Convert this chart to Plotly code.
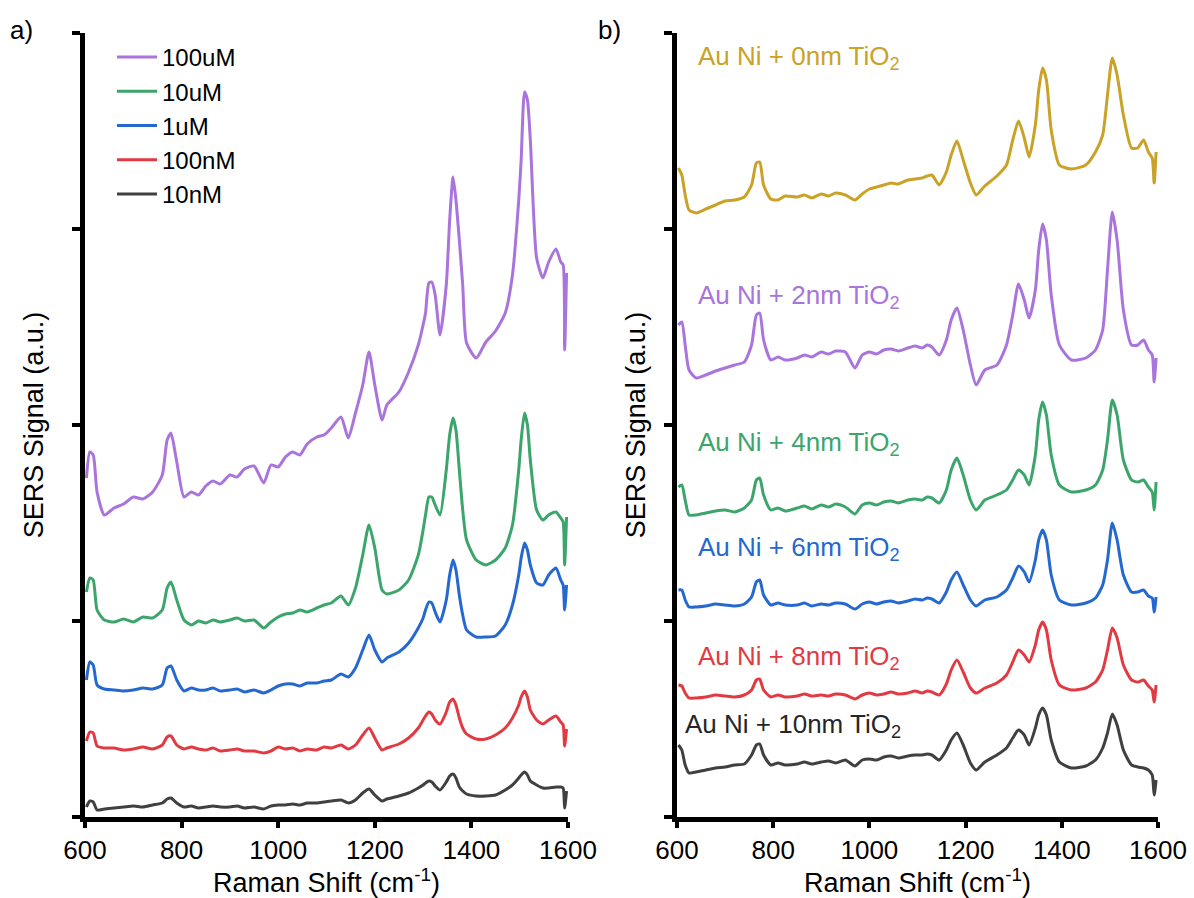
import plotly.graph_objects as go

# ---------------- data: panel a (concentration series) ----------------
shift_a = [603, 610, 617, 625, 640, 660, 680, 700, 720, 740,
           760, 770, 778, 790, 805, 820, 835, 850, 865, 880,
           900, 915, 930, 950, 970, 985, 1000, 1015, 1030, 1045,
           1060, 1080, 1095, 1110, 1130, 1145, 1160, 1175, 1188, 1200,
           1215, 1225, 1250, 1270, 1290, 1300, 1305, 1312, 1318, 1325,
           1335, 1348, 1355, 1362, 1368, 1375, 1382, 1390, 1410, 1430,
           1450, 1470, 1485, 1498, 1503, 1510, 1516, 1522, 1535, 1548,
           1560, 1575, 1585, 1590, 1593, 1597]

sig_100uM = [339, 365, 362, 325, 302, 309, 313, 320, 318, 325,
             342, 377, 384, 355, 320, 325, 322, 331, 336, 333,
             342, 340, 348, 351, 334, 352, 350, 360, 365, 362,
             373, 380, 382, 389, 400, 379, 404, 432, 465, 432,
             397, 412, 425, 445, 472, 492, 504, 534, 535, 522,
             482, 532, 597, 640, 617, 577, 532, 474, 459, 475,
             486, 504, 542, 617, 657, 725, 717, 677, 559, 539,
             555, 568, 555, 552, 467, 544]
sig_10uM = [225, 239, 237, 207, 197, 195, 198, 195, 200, 199,
            207, 229, 235, 217, 197, 192, 196, 194, 197, 195,
            197, 199, 196, 197, 189, 195, 200, 203, 204, 207,
            205, 209, 212, 214, 221, 212, 229, 262, 292, 269,
            227, 223, 227, 237, 262, 287, 302, 320, 320, 312,
            302, 347, 382, 399, 387, 347, 307, 277, 257, 252,
            257, 269, 292, 347, 377, 404, 392, 357, 307, 297,
            302, 305, 299, 295, 252, 300]
sig_1uM = [137, 155, 152, 132, 128, 127, 126, 127, 129, 128,
           132, 149, 151, 137, 126, 129, 127, 127, 129, 126,
           127, 128, 125, 127, 124, 127, 131, 133, 133, 131,
           134, 134, 136, 137, 143, 140, 149, 167, 182, 167,
           155, 159, 165, 174, 189, 199, 207, 215, 214, 205,
           195, 217, 242, 257, 247, 222, 202, 187, 180, 180,
           181, 192, 212, 242, 259, 274, 267, 252, 234, 232,
           242, 249, 237, 232, 207, 232]
sig_100nM = [76, 85, 84, 71, 69, 69, 67, 68, 70, 68,
             72, 80, 81, 72, 68, 70, 68, 67, 69, 66,
             67, 68, 66, 66, 64, 66, 70, 68, 69, 66,
             68, 67, 70, 69, 72, 68, 72, 82, 89, 79,
             67, 69, 73, 79, 89, 97, 101, 105, 103, 97,
             93, 105, 115, 118, 112, 99, 89, 83, 78, 78,
             82, 89, 99, 112, 120, 126, 120, 107, 97, 93,
             97, 101, 95, 92, 71, 88]
sig_10nM = [10, 16, 15, 7, 8, 9, 10, 11, 10, 12,
            14, 18, 19, 14, 10, 11, 9, 10, 11, 10,
            10, 11, 9, 10, 8, 11, 12, 12, 13, 12,
            14, 14, 15, 16, 17, 14, 17, 24, 28, 22,
            16, 18, 21, 24, 29, 32, 34, 36, 35, 31,
            27, 35, 41, 43, 39, 30, 26, 23, 21, 21,
            22, 27, 32, 39, 42, 45, 42, 36, 32, 29,
            29, 30, 30, 29, 9, 26]

names_a = ["100uM", "10uM", "1uM", "100nM", "10nM"]
series_a = [sig_100uM, sig_10uM, sig_1uM, sig_100nM, sig_10nM]
colors_a = ["#A974DC", "#3BA56B", "#2468D0", "#E23A42", "#404040"]

# ---------------- data: panel b (TiO2 thickness series) ----------------
shift_b = [603, 610, 617, 625, 640, 660, 680, 700, 720, 740,
           755, 765, 772, 780, 795, 810, 825, 850, 865, 880,
           900, 915, 930, 950, 970, 985, 1000, 1015, 1030, 1045,
           1060, 1080, 1095, 1110, 1120, 1130, 1145, 1160, 1170, 1182,
           1195, 1210, 1222, 1240, 1265, 1285, 1298, 1310, 1322, 1332,
           1345, 1352, 1360, 1368, 1378, 1395, 1420, 1450, 1470, 1485,
           1495, 1505, 1515, 1528, 1545, 1558, 1570, 1580, 1588, 1592,
           1596]

sig_0nm = [649, 642, 622, 607, 604, 608, 612, 616, 617, 620,
           632, 654, 655, 632, 618, 617, 621, 620, 622, 619,
           623, 621, 624, 622, 617, 623, 628, 630, 632, 634,
           633, 637, 638, 639, 641, 642, 632, 645, 662, 676,
           657, 634, 622, 631, 641, 652, 677, 696, 679, 660,
           692, 727, 749, 737, 687, 652, 648, 652, 665, 682,
           722, 759, 742, 702, 669, 669, 677, 665, 659, 634,
           665]
sig_2nm = [492, 495, 472, 447, 439, 442, 446, 449, 452, 455,
           472, 502, 504, 477, 457, 460, 457, 459, 462, 460,
           465, 463, 466, 465, 449, 462, 465, 463, 467, 468,
           466, 469, 471, 469, 472, 470, 462, 477, 497, 509,
           487, 452, 432, 447, 452, 472, 502, 533, 517, 499,
           527, 567, 593, 577, 522, 472, 457, 459, 467, 487,
           547, 605, 577, 507, 472, 472, 477, 467, 462, 435,
           459]
sig_4nm = [330, 332, 317, 302, 302, 304, 306, 307, 305, 309,
           317, 337, 339, 322, 307, 309, 306, 309, 311, 308,
           312, 310, 313, 310, 303, 312, 314, 312, 315, 316,
           314, 317, 318, 317, 320, 319, 314, 327, 347, 359,
           342, 317, 307, 317, 322, 327, 337, 347, 342, 332,
           362, 397, 415, 402, 362, 332, 325, 327, 332, 347,
           377, 417, 402, 357, 337, 335, 337, 330, 325, 307,
           335]
sig_6nm = [227, 227, 217, 210, 210, 211, 213, 212, 211, 213,
           220, 235, 237, 222, 212, 214, 212, 212, 214, 211,
           213, 212, 214, 213, 208, 213, 215, 213, 215, 216,
           214, 216, 218, 217, 219, 218, 214, 225, 237, 245,
           232, 217, 211, 217, 220, 227, 239, 251, 245, 235,
           257, 277, 287, 277, 242, 217, 212, 214, 219, 232,
           257, 294, 277, 242, 225, 225, 227, 221, 219, 205,
           220]
sig_8nm = [132, 131, 124, 119, 119, 120, 122, 121, 120, 122,
           127, 137, 138, 127, 120, 122, 120, 121, 123, 121,
           122, 121, 123, 122, 118, 122, 124, 122, 123, 125,
           123, 124, 126, 124, 126, 125, 122, 133, 147, 157,
           145, 129, 124, 129, 134, 142, 155, 167, 162, 155,
           172, 187, 195, 187, 157, 132, 127, 129, 135, 147,
           167, 189, 179, 152, 137, 135, 137, 131, 127, 115,
           132]
sig_10nm = [72, 67, 52, 44, 45, 47, 49, 50, 52, 53,
            62, 72, 73, 62, 52, 54, 52, 53, 55, 53,
            55, 56, 54, 57, 51, 57, 58, 57, 60, 61,
            59, 61, 62, 62, 63, 62, 57, 67, 77, 84,
            72, 54, 47, 55, 62, 69, 79, 87, 82, 72,
            89, 102, 109, 102, 77, 55, 49, 51, 57, 69,
            84, 103, 92, 67, 52, 50, 49, 47, 42, 22,
            37]

labels_b = ["Au Ni + 0nm TiO<sub>2</sub>", "Au Ni + 2nm TiO<sub>2</sub>", "Au Ni + 4nm TiO<sub>2</sub>",
            "Au Ni + 6nm TiO<sub>2</sub>", "Au Ni + 8nm TiO<sub>2</sub>", "Au Ni + 10nm TiO<sub>2</sub>"]
series_b = [sig_0nm, sig_2nm, sig_4nm, sig_6nm, sig_8nm, sig_10nm]
colors_b = ["#C9A227", "#A974DC", "#3BA56B", "#2468D0", "#E23A42", "#404040"]
label_colors_b = ["#C9A227", "#A974DC", "#3BA56B", "#2468D0", "#E23A42", "#262626"]
label_x_b = [640, 640, 640, 640, 640, 613]
label_y_b = [760, 521, 374, 269, 160, 92]

x_ticks = [600, 800, 1000, 1200, 1400, 1600]

FONT = "Liberation Sans, Arial, sans-serif"
W, H = 1194, 898

fig = go.Figure()
for name, ys, col in zip(names_a, series_a, colors_a):
    fig.add_trace(go.Scatter(x=shift_a, y=ys, mode="lines", name=name,
                             line=dict(color=col, width=3, shape="spline", smoothing=0.6),
                             xaxis="x", yaxis="y"))
for name, ys, col in zip(labels_b, series_b, colors_b):
    fig.add_trace(go.Scatter(x=shift_b, y=ys, mode="lines", name=name, showlegend=False,
                             line=dict(color=col, width=3, shape="spline", smoothing=0.6),
                             xaxis="x2", yaxis="y2"))

for txt, col, lx, ly in zip(labels_b, label_colors_b, label_x_b, label_y_b):
    fig.add_annotation(x=lx, y=ly, xref="x2", yref="y2", text=txt, showarrow=False,
                       xanchor="left", yanchor="middle",
                       font=dict(family=FONT, size=26, color=col))

fig.add_annotation(x=8 / W, y=1 - 30 / H, xref="paper", yref="paper", text="a)",
                   showarrow=False, xanchor="left", yanchor="middle",
                   font=dict(family=FONT, size=26, color="black"))
fig.add_annotation(x=596 / W, y=1 - 30 / H, xref="paper", yref="paper", text="b)",
                   showarrow=False, xanchor="left", yanchor="middle",
                   font=dict(family=FONT, size=26, color="black"))


def xaxis_cfg(domain, anchor):
    return dict(domain=domain, anchor=anchor, automargin=False,
                range=[600, 1600], tickvals=x_ticks, ticks="outside", ticklen=6, tickwidth=4,
                tickcolor="black", showline=True, linewidth=5, linecolor="black",
                showgrid=False, zeroline=False,
                tickfont=dict(family=FONT, size=26, color="black"),
                title=dict(text="Raman Shift (cm<sup>-1</sup>)",
                           font=dict(family=FONT, size=27, color="black"), standoff=2))


def yaxis_cfg(domain, anchor, standoff):
    return dict(domain=domain, anchor=anchor, automargin=False,
                range=[0, 784], tickvals=[0, 196, 392, 588, 784], showticklabels=False,
                ticks="outside", ticklen=8, tickwidth=4, tickcolor="black",
                showline=True, linewidth=5, linecolor="black",
                showgrid=False, zeroline=False,
                title=dict(text="SERS Signal (a.u.)",
                           font=dict(family=FONT, size=27, color="black"), standoff=standoff))


fig.update_layout(
    width=W, height=H,
    margin=dict(l=0, r=0, t=0, b=0, autoexpand=False),
    paper_bgcolor="white", plot_bgcolor="white",
    xaxis=xaxis_cfg([85 / W, 568 / W], "y"),
    yaxis=yaxis_cfg([81 / H, 865 / H], "x", 22),
    xaxis2=xaxis_cfg([677 / W, 1158 / W], "y2"),
    yaxis2=yaxis_cfg([81 / H, 865 / H], "x2", 12),
    legend=dict(x=112 / W, y=1 - 35 / H, xanchor="left", yanchor="top",
                bgcolor="rgba(0,0,0,0)", font=dict(family=FONT, size=24, color="black"),
                itemwidth=40, tracegroupgap=0),
    showlegend=True,
)

fig.write_html("out.html")
